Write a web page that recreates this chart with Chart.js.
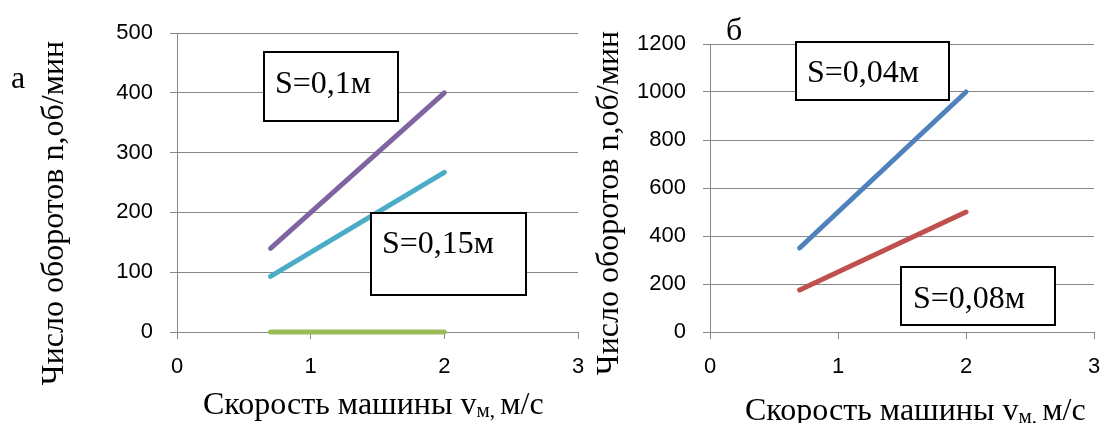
<!DOCTYPE html>
<html>
<head>
<meta charset="utf-8">
<script src="https://cdn.jsdelivr.net/npm/chart.js@4.4.1/dist/chart.umd.min.js"></script>
<style>
  html, body { margin: 0; padding: 0; background: #fff; }
  #wrap { position: relative; width: 1102px; height: 423px; overflow: hidden; }
  canvas { position: absolute; left: 0; top: 0; }
</style>
</head>
<body>
<div id="wrap">
  <canvas id="chartA" width="1102" height="423"></canvas>
  <canvas id="chartB" width="1102" height="423"></canvas>
</div>
<script>
// панель а
const speedA = [0.7, 2];
const nS010 = [140, 400];
const nS015 = [93, 267];
const nZero = [0, 0];
const yTicksA = [0, 100, 200, 300, 400, 500];

// панель б
const speedB = [0.7, 2];
const nS004 = [350, 1000];
const nS008 = [175, 500];
const yTicksB = [0, 200, 400, 600, 800, 1000, 1200];

const xTicks = [0, 1, 2, 3];

const yTitle = 'Число оборотов n,об/мин';
const serif = '"Liberation Serif", "Times New Roman", serif';
const gridColor = '#868686';

Chart.defaults.font.family = '"Liberation Sans", Arial, sans-serif';
Chart.defaults.color = '#000';

function pts(xs, ys) {
    return xs.map((x, i) => ({ x: x, y: ys[i] }));
}

function series(label, xs, ys, color) {
    return {
        label: label,
        data: pts(xs, ys),
        borderColor: color,
        backgroundColor: color,
        borderWidth: 5,
        borderCapStyle: 'round',
        pointRadius: 0,
        tension: 0,
        clip: false
    };
}

// boxes, letters and axis titles are drawn on top of the chart
const overlay = {
    id: 'overlay',
    afterDraw(chart, args, opts) {
        const ctx = chart.ctx;
        ctx.save();
        ctx.fillStyle = '#000';
        ctx.font = '32px ' + serif;
        ctx.textBaseline = 'alphabetic';
        ctx.textAlign = 'left';
        ctx.fillText(opts.letter.text, opts.letter.x, opts.letter.y);

        opts.boxes.forEach(b => {
            ctx.fillStyle = '#fff';
            ctx.fillRect(b.x, b.y, b.w, b.h);
            ctx.lineWidth = 2;
            ctx.strokeStyle = '#000';
            ctx.strokeRect(b.x, b.y, b.w, b.h);
            ctx.fillStyle = '#000';
            ctx.font = '32px ' + serif;
            ctx.fillText(b.text, b.tx, b.ty);
        });

        // y title
        ctx.save();
        ctx.translate(opts.yTitle.x, opts.yTitle.y);
        ctx.rotate(-Math.PI / 2);
        ctx.textAlign = 'center';
        ctx.textBaseline = 'middle';
        ctx.font = '32px ' + serif;
        ctx.fillText(yTitle, 0, 0);
        ctx.restore();

        // x title with subscript
        const xt = opts.xTitle;
        let x = xt.x;
        ctx.textAlign = 'left';
        ctx.font = '32px ' + serif;
        ctx.fillText('Скорость машины v', x, xt.y);
        x += ctx.measureText('Скорость машины v').width;
        ctx.font = '21px ' + serif;
        ctx.fillText('м,', x, xt.y + 3);
        x += ctx.measureText('м, ').width;
        ctx.font = '32px ' + serif;
        ctx.fillText('м/с', x, xt.y);
        ctx.restore();
    }
};

function makeOptions(yTicks, padding, yWidth, extra) {
    return {
        responsive: false,
        animation: false,
        layout: { padding: padding },
        plugins: {
            legend: { display: false },
            tooltip: { enabled: false },
            overlay: extra
        },
        scales: {
            x: {
                type: 'linear',
                min: xTicks[0],
                max: xTicks[xTicks.length - 1],
                ticks: { stepSize: 1, font: { size: 22 }, padding: 15, maxRotation: 0, callback: v => String(v) },
                grid: { drawOnChartArea: false, color: gridColor, tickLength: 7 },
                border: { color: gridColor },
                afterFit: s => { s.height = 91; s.paddingLeft = 0; s.paddingRight = 0; }
            },
            y: {
                min: yTicks[0],
                max: yTicks[yTicks.length - 1],
                ticks: { stepSize: yTicks[1] - yTicks[0], font: { size: 22 }, padding: 17, callback: v => String(v) },
                grid: { color: gridColor, tickLength: 7 },
                border: { color: gridColor },
                afterFit: s => { s.width = yWidth; s.paddingTop = 0; s.paddingBottom = 0; }
            }
        }
    };
}

new Chart(document.getElementById('chartA'), {
    type: 'line',
    data: {
        datasets: [
            series('S=0,1м', speedA, nS010, '#8064A2'),
            series('S=0,15м', speedA, nS015, '#4BACC6'),
            series('0', speedA, nZero, '#9BBB59')
        ]
    },
    options: makeOptions(yTicksA, { left: 0, top: 33, right: 524, bottom: 0 }, 177, {
        letter: { text: 'а', x: 11, y: 88 },
        boxes: [
            { x: 264, y: 52, w: 134, h: 69, text: 'S=0,1м', tx: 275, ty: 93 },
            { x: 371, y: 213, w: 155, h: 82, text: 'S=0,15м', tx: 382, ty: 253 }
        ],
        yTitle: { x: 55, y: 213 },
        xTitle: { x: 203, y: 414 }
    }),
    plugins: [overlay]
});

new Chart(document.getElementById('chartB'), {
    type: 'line',
    data: {
        datasets: [
            series('S=0,04м', speedB, nS004, '#4F81BD'),
            series('S=0,08м', speedB, nS008, '#C0504D')
        ]
    },
    options: makeOptions(yTicksB, { left: 0, top: 44, right: 8, bottom: 0 }, 710, {
        letter: { text: 'б', x: 726, y: 40 },
        boxes: [
            { x: 796, y: 42, w: 153, h: 58, text: 'S=0,04м', tx: 807, ty: 82 },
            { x: 901, y: 267, w: 154, h: 58, text: 'S=0,08м', tx: 913, ty: 308 }
        ],
        yTitle: { x: 610, y: 203 },
        xTitle: { x: 745, y: 420 }
    }),
    plugins: [overlay]
});
</script>
</body>
</html>
